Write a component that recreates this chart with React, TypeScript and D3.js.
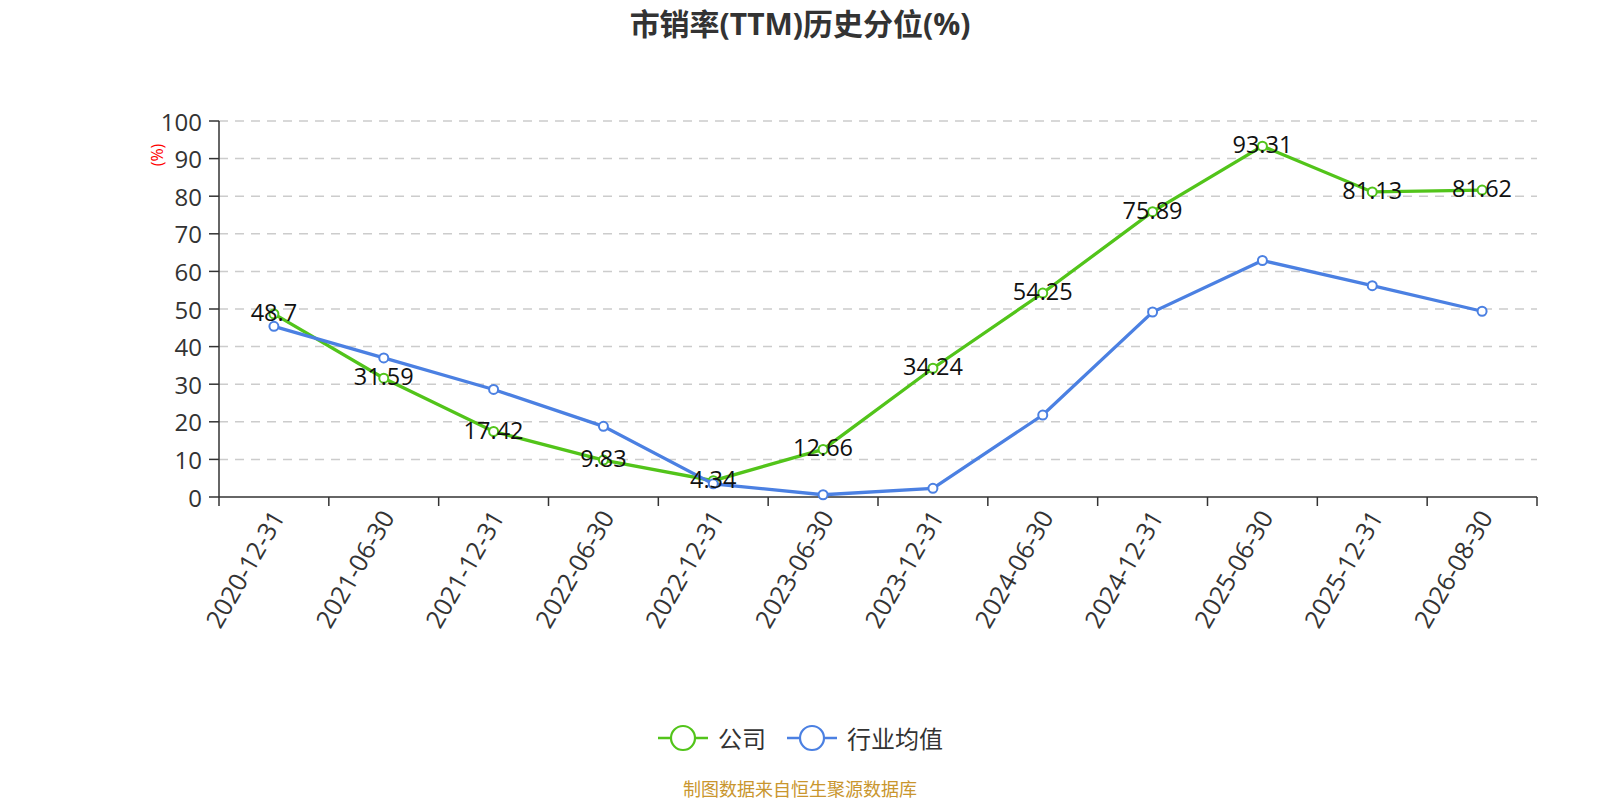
import React from 'react';
import * as d3 from 'd3';

const categories = [
  '2020-12-31', '2021-06-30', '2021-12-31', '2022-06-30', '2022-12-31', '2023-06-30',
  '2023-12-31', '2024-06-30', '2024-12-31', '2025-06-30', '2025-12-31', '2026-08-30',
];
const companyValues = [48.7, 31.59, 17.42, 9.83, 4.34, 12.66, 34.24, 54.25, 75.89, 93.31, 81.13, 81.62];
const industryValues = [45.4, 37.0, 28.6, 18.8, 3.5, 0.6, 2.3, 21.8, 49.2, 62.9, 56.2, 49.4];
const yTicks = [0, 10, 20, 30, 40, 50, 60, 70, 80, 90, 100];

const GREEN = '#52c41a';
const BLUE = '#4b80e2';
const FONT = '"Open Sans", "Noto Sans CJK SC", sans-serif';

const App: React.FC = () => {
  const width = 1600;
  const height = 800;
  const left = 219;
  const right = 1537;
  const top = 121;
  const bottom = 497;

  const x = d3.scaleBand<string>().domain(categories).range([left, right]);
  const y = d3.scaleLinear().domain([0, 100]).range([bottom, top]);
  const cx = (c: string) => (x(c) ?? 0) + x.bandwidth() / 2;

  const line = d3.line<number>()
    .x((_, i) => cx(categories[i]))
    .y(d => y(d));

  const series = [
    { name: '公司', values: companyValues, color: GREEN, labels: true, lx: 658 },
    { name: '行业均值', values: industryValues, color: BLUE, labels: false, lx: 787 },
  ];

  return (
    <div style={{ position: 'fixed', left: 0, top: 0 }}>
      <svg width={width} height={height} style={{ display: 'block', fontFamily: FONT }}>
        <rect width={width} height={height} fill="#fff" />
        <text x={800} y={23} textAnchor="middle" dominantBaseline="central" fontSize={30} fontWeight="bold" fill="#333">
          市销率(TTM)历史分位(%)
        </text>

        {/* 网格线 + y轴刻度 */}
        {yTicks.map(t => (
          <g key={t}>
            {t > 0 && (
              <line x1={left} x2={right} y1={y(t)} y2={y(t)} stroke="#ccc" strokeWidth={1.5} strokeDasharray="9,7" />
            )}
            <line x1={left - 10} x2={left} y1={y(t)} y2={y(t)} stroke="#333" strokeWidth={1.5} />
            <text x={left - 17} y={y(t)} textAnchor="end" dominantBaseline="central" fontSize={24} fill="#333">
              {t}
            </text>
          </g>
        ))}
        <line x1={left} x2={left} y1={top} y2={bottom} stroke="#333" strokeWidth={1.5} />
        <text transform={`translate(157, 155) rotate(-90)`} textAnchor="middle" dominantBaseline="central" fontSize={16} fill="red">
          (%)
        </text>

        {/* x轴 */}
        <line x1={left} x2={right} y1={bottom} y2={bottom} stroke="#333" strokeWidth={1.5} />
        {d3.range(categories.length + 1).map(i => {
          const xx = left + i * x.bandwidth();
          return <line key={i} x1={xx} x2={xx} y1={bottom} y2={bottom + 9} stroke="#333" strokeWidth={1.5} />;
        })}
        {categories.map(c => (
          <text
            key={c}
            transform={`translate(${cx(c) + 3}, ${bottom + 15}) rotate(-60)`}
            textAnchor="end"
            dominantBaseline="central"
            fontSize={25}
            fill="#333"
          >
            {c}
          </text>
        ))}

        {/* 折线 */}
        {series.map(s => (
          <g key={s.name}>
            <path d={line(s.values) ?? ''} fill="none" stroke={s.color} strokeWidth={3.3} />
            {s.values.map((v, i) => (
              <circle key={i} cx={cx(categories[i])} cy={y(v)} r={4.5} fill="#fff" stroke={s.color} strokeWidth={2} />
            ))}
          </g>
        ))}
        {series.filter(s => s.labels).map(s => (
          <g key={s.name + '-labels'}>
            {s.values.map((v, i) => (
              <text key={i} x={cx(categories[i])} y={y(v) - 2} textAnchor="middle" dominantBaseline="central" fontSize={23.5} fill="#111">
                {v}
              </text>
            ))}
          </g>
        ))}

        {/* 图例 */}
        {series.map(s => {
          const ly = 738;
          return (
            <g key={s.name + '-legend'}>
              <line x1={s.lx} x2={s.lx + 50} y1={ly} y2={ly} stroke={s.color} strokeWidth={2.5} />
              <circle cx={s.lx + 25} cy={ly} r={12} fill="#fff" stroke={s.color} strokeWidth={2.2} />
              <text x={s.lx + 60} y={ly} dominantBaseline="central" fontSize={24} fill="#333">
                {s.name}
              </text>
            </g>
          );
        })}

        <text x={800} y={789} textAnchor="middle" dominantBaseline="central" fontSize={18} fill="#c9962e">
          制图数据来自恒生聚源数据库
        </text>
      </svg>
    </div>
  );
};

export default App;
